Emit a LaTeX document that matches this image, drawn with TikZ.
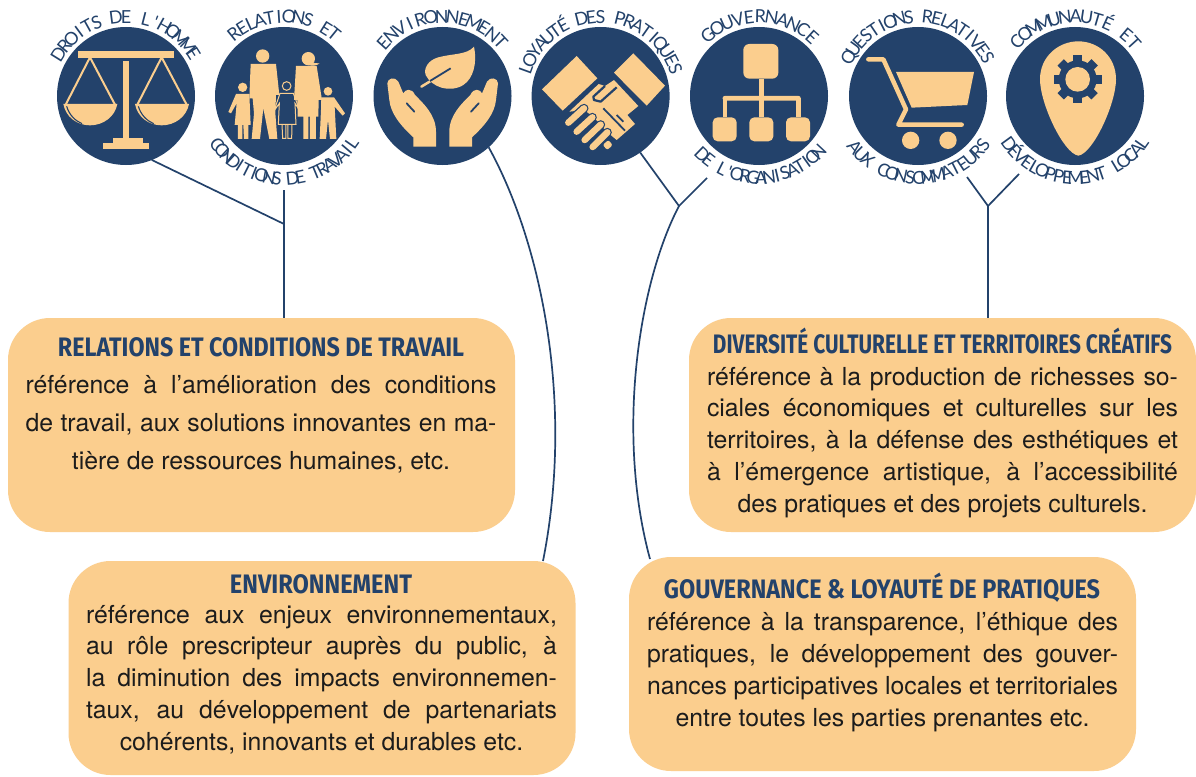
\documentclass[tikz,border=0pt]{standalone}
\usepackage{fontspec}
\usepackage{graphicx}
\setmainfont{TeX Gyre Heros}
\newfontfamily\arcfont{Lato}
\newfontfamily\headfont{Fira Sans}
\definecolor{navy}{HTML}{23426B}
\definecolor{cream}{HTML}{FBCE8E}
\definecolor{ink}{HTML}{1C1C1C}
\tikzset{
  badge/.style={circle,fill=navy,minimum size=138pt,inner sep=0pt,outer sep=0pt},
  panel/.style={draw=none,fill=cream,rounded corners=42pt,minimum width=507pt,minimum height=214pt,inner sep=0pt,outer sep=0pt},
  heading/.style={anchor=base,inner sep=0pt,text=navy},
  bodytext/.style={anchor=base,inner sep=0pt,text=ink},
  arcchar/.style={anchor=base,inner sep=0pt,text=navy,font=\arcfont\fontsize{18}{18}\selectfont},
  link/.style={draw=navy,line width=1.7pt},
  ic/.style={fill=cream,draw=none},
  icl/.style={draw=cream},
  gap/.style={draw=navy},
}
\newlength\arcW
\newlength\arcP
\newcount\arcN
\newcount\arcI
\makeatletter
% #1 badge node, #2 start angle, #3 end angle, #4 radius, #5 text (~ = space)
\newcommand\arclabel[5]{%
  \arcW=0pt \arcN=0 \arcI=0 \arcP=0pt
  \@tfor\chr:=#5\do{%
    \setbox0\hbox{\arcfont\fontsize{18}{18}\selectfont\chr}%
    \advance\arcW by \wd0 \advance\arcN by 1 }%
  \pgfmathsetmacro\arcDir{(#3>#2)?1:-1}%
  \pgfmathsetmacro\arcGap{(#4*(abs(#3-#2)/180)*pi-\strip@pt\arcW)/(\the\arcN-1)}%
  \@tfor\chr:=#5\do{%
    \setbox0\hbox{\arcfont\fontsize{18}{18}\selectfont\chr}%
    \pgfmathsetmacro\arcAng{#2+\arcDir*((\strip@pt\arcP+0.5*\strip@pt\wd0)/#4)*(180/pi)}%
    \pgfmathsetmacro\arcRot{\arcAng+\arcDir*90}%
    \advance\arcI by 1
    \node[arcchar,rotate=\arcRot] (#1a#2n\the\arcI) at ([shift={(\arcAng:#4pt)}]#1.center) {\chr};
    \advance\arcP by \wd0
    \advance\arcP by \arcGap pt
  }%
}
\makeatother
\newcommand\hd[2]{\resizebox{#1pt}{18.5pt}{\headfont\bfseries\vphantom{H}\smash{#2}}}
\newcommand\jl[1]{\hbox to 471pt{#1}}
\newcommand\cl[1]{\hbox to 471pt{\hfil #1\hfil}}
\newcommand\bodyblock[2]{\vtop{\fontsize{24.8}{#1}\selectfont\baselineskip=#1pt\lineskip=0pt\lineskiplimit=-100pt #2}}
\newcommand\handpath{(82,250) .. controls (82,235) and (105,228) .. (115,245) .. controls (121,258) and (124,268) .. (130,280) .. controls (135,268) and (155,262) .. (165,285) .. controls (190,310) and (228,345) .. (228,395) -- (228,440) -- (160,440) -- (160,412) .. controls (120,375) and (92,340) .. (88,300) -- cycle}
\begin{document}
\begin{tikzpicture}[x=1pt,y=-1pt]
\useasboundingbox (0,0) rectangle (1196,776);
\fill[white] (0,0) rectangle (1196,776);

% panels
\node[panel] (b1) at (261.5,425) {};
\node[panel] (b2) at (322,668) {};
\node[panel] (b3) at (942.5,425) {};
\node[panel] (b4) at (882.5,664) {};

% badges
\node[badge] (c1) at (126,96) {};
\node[badge] (c2) at (284,96) {};
\node[badge] (c3) at (442.5,96) {};
\node[badge] (c4) at (600.6,96) {};
\node[badge] (c5) at (759,96) {};
\node[badge] (c6) at (918,96) {};
\node[badge] (c7) at (1075,96) {};

% connectors
\coordinate (j1) at (284,224);
\coordinate (t1) at (284,190);
\draw[link] (c1.-68) -- (j1);
\draw[link] (t1) -- (t1 |- b1.north);
\coordinate (e2) at (543,561);
\draw[link] (c3.-48) .. controls (540,240) and (575,400) .. (e2);
\coordinate (j3) at (679,206);
\coordinate (f3) at (707,178);
\coordinate (e4) at (650,559);
\draw[link] (c4.-55) -- (j3) -- (f3);
\draw[link] (j3) .. controls (640,280) and (615,430) .. (e4);
\coordinate (f6) at (967,177);
\coordinate (f7) at (1019,174);
\coordinate (j6) at (988,206);
\draw[link] (f6) -- (j6) -- (f7);
\draw[link] (j6) -- (j6 |- b3.north);

% arc labels
\arclabel{c1}{148}{32}{73}{DROITS~DE~L'HOMME}
\arclabel{c2}{129}{51}{73}{RELATIONS~ET}
\arclabel{c2}{216}{325}{89}{CONDITIONS~DE~TRAVAIL}
\arclabel{c3}{138}{43}{73}{ENVIRONNEMENT}
\arclabel{c4}{160}{20}{73}{LOYAUTÉ~DES~PRATIQUES}
\arclabel{c5}{130}{48}{73}{GOUVERNANCE}
\arclabel{c5}{226}{317}{88}{DE~L'ORGANISATION}
\arclabel{c6}{151}{29}{73}{QUESTIONS~RELATIVES}
\arclabel{c6}{219}{323}{88}{AUX~CONSOMMATEURS}
\arclabel{c7}{137}{42}{73}{COMMUNAUTÉ~ET}
\arclabel{c7}{216}{325}{88}{DÉVELOPPEMENT~LOCAL}

% scales and family icons
\begin{scope}[x=.33333pt,y=-.33333pt]
  \fill[ic] (234,153) rectangle (522,173);
  \fill[ic] (368,183) rectangle (387,418);
  \fill[ic] (340,415) rectangle (428,431);
  \fill[ic] (308,430) rectangle (448,446);
  \foreach \dx in {0,215}{
    \begin{scope}[xshift=\dx*.33333pt]
      \draw[icl,line width=2pt] (197,314) -- (270,172) -- (345,314);
      \fill[ic] (190,312) -- (352,312) .. controls (345,350) and (310,376) .. (270,376) .. controls (230,376) and (197,350) .. (190,312) -- cycle;
      \draw[gap,line width=1.1pt] (200,319) .. controls (208,345) and (225,362) .. (246,371);
    \end{scope}
  }
  % father
  \fill[ic] (788,168) circle[radius=20];
  \fill[ic] (752,192) -- (828,192) -- (838,285) -- (828,285) -- (826,340) -- (832,417) -- (808,417) -- (790,325) -- (780,417) -- (755,417) -- (762,340) -- (758,295) -- (748,295) -- cycle;
  % mother
  \fill[ic] (925,176) circle[radius=20];
  \fill[ic] (930,180) .. controls (940,190) and (950,192) .. (959,190) .. controls (950,198) and (935,198) .. (925,195) -- cycle;
  \fill[ic] (888,198) -- (950,198) -- (966,300) -- (956,300) -- (955,350) -- (948,350) -- (948,417) -- (930,417) -- (930,350) -- (925,350) -- (925,417) -- (910,417) -- (910,350) -- (893,350) -- (892,300) -- (882,300) -- cycle;
  % left child
  \fill[ic] (728,262) circle[radius=14];
  \fill[ic] (708,282) -- (748,282) -- (752,375) -- (745,375) -- (745,417) -- (732,417) -- (730,375) -- (727,375) -- (727,417) -- (714,417) -- (714,375) -- (704,375) -- (710,310) -- (693,340) -- (685,336) -- cycle;
  % middle child
  \draw[icl,line width=1pt] (860,258) circle[radius=13];
  \draw[icl,line width=1pt] (840,280) -- (880,280) -- (900,333) -- (885,310) -- (888,373) -- (835,373) -- (838,310) -- (822,333) -- cycle;
  \draw[icl,line width=1pt] (846,373) -- (848,415) -- (858,415) -- (858,373) (864,373) -- (864,415) -- (875,415) -- (876,373);
  % right child
  \fill[ic] (984,274) circle[radius=13];
  \fill[ic] (964,292) -- (1002,292) -- (1035,340) -- (1028,347) -- (1004,320) -- (1009,417) -- (990,417) -- (984,360) -- (978,417) -- (959,417) -- (963,330) -- cycle;
\end{scope}

% environment, handshake, org chart
\begin{scope}[shift={(360,0)},x=.33333pt,y=-.33333pt]
  \fill[ic] (342,140) .. controls (320,165) and (280,160) .. (235,172) .. controls (205,180) and (190,205) .. (197,225) .. controls (215,262) and (270,280) .. (310,255) .. controls (340,235) and (352,190) .. (342,140) -- cycle;
  \draw[icl,line width=2.5pt,line cap=round] (184,260) -- (212,243);
  \draw[gap,line width=1.8pt] (210,243) -- (272,205);
  \fill[ic] \handpath;
  \draw[gap,line width=1.8pt,line cap=round] (140,310) -- (163,335);
  \begin{scope}[shift={(496,0)},x=-.33333pt]
    \fill[ic] \handpath;
    \draw[gap,line width=1.8pt,line cap=round] (140,310) -- (163,335);
  \end{scope}
  % handshake
  \fill[ic] (650,168) -- (712,235) -- (608,332) -- (546,268) -- cycle;
  \fill[ic] (820,160) -- (915,257) -- (860,317) -- (762,218) -- cycle;
  \fill[ic] (716,252) -- (628,335) -- (672,330) -- (700,350) -- (740,395) -- (770,420) -- (825,372) -- (802,345) -- (835,318) -- (762,240) -- (735,258) -- cycle;
  \draw[gap,line width=2.2pt,line join=round] (770,262) -- (722,305) -- (702,300) -- (700,290) -- (735,258);
  \draw[gap,line width=1.8pt] (730,325) -- (795,392) (770,345) -- (790,365);
  \foreach \ax/\ay/\bx/\by in {625/368/672/325,650/395/697/352,674/420/722/374,698/441/742/397}{
    \draw[navy,line width=9pt,line cap=round] (\ax,\ay) -- (\bx,\by);
    \draw[cream,line width=6.5pt,line cap=round] (\ax,\ay) -- (\bx,\by);
  }
  \fill[ic,rounded corners=2pt] (728,435) -- (745,420) -- (758,435) -- (742,450) -- cycle;
  % org chart
  \fill[ic,rounded corners=6pt] (1150,132) rectangle (1255,236);
  \fill[ic] (1196,236) rectangle (1212,352);
  \fill[ic,rounded corners=2pt] (1088,288) rectangle (1322,302);
  \fill[ic] (1088,295) rectangle (1102,352);
  \fill[ic] (1308,295) rectangle (1322,352);
  \fill[ic,rounded corners=5pt] (1058,352) rectangle (1130,424);
  \fill[ic,rounded corners=5pt] (1168,352) rectangle (1240,424);
  \fill[ic,rounded corners=5pt] (1278,352) rectangle (1350,424);
\end{scope}

% cart and pin
\begin{scope}[shift={(830,0)},x=.33333pt,y=-.33333pt]
  \draw[icl,line width=4.5pt,line join=round,line cap=round] (115,178) -- (160,178) -- (228,328) -- (205,374) -- (395,374);
  \fill[ic] (198,216) -- (432,216) -- (412,315) -- (245,323) -- cycle;
  \fill[ic] (242,421) circle[radius=26];
  \fill[ic] (354,421) circle[radius=26];
  \fill[ic] (745,467) .. controls (700,460) and (630,310) .. (630,238) .. controls (630,170) and (685,124) .. (745,124) .. controls (805,124) and (858,170) .. (858,238) .. controls (858,310) and (790,460) .. (745,467) -- cycle;
  \foreach \a in {0,45,...,315}{
    \draw[navy,line width=9pt] (743,238) -- ++(\a:72);
  }
  \fill[navy] (743,238) circle[radius=57];
  \fill[ic] (743,238) circle[radius=37];
\end{scope}

% headings
\node[heading] (h1) at (261,356.5) {\hd{406}{RELATIONS ET CONDITIONS DE TRAVAIL}};
\node[heading] (h2) at (321,593) {\hd{182}{ENVIRONNEMENT}};
\node[heading] (h3) at (942.5,353) {\hd{459}{DIVERSITÉ CULTURELLE ET TERRITOIRES CRÉATIFS}};
\node[heading] (h4) at (882,598) {\hd{436}{GOUVERNANCE \& LOYAUTÉ DE PRATIQUES}};

% bodies
\node[bodytext] (t1b) at (261,393) {\bodyblock{38}{%
  \jl{référence à l’amélioration des conditions}
  \jl{de travail, aux solutions innovantes en ma-}
  \cl{tière de ressources humaines, etc.}}};
\node[bodytext] (t2b) at (321.5,623) {\bodyblock{31.8}{%
  \jl{référence aux enjeux environnementaux,}
  \jl{au rôle prescripteur auprès du public, à}
  \jl{la diminution des impacts environnemen-}
  \jl{taux, au développement de partenariats}
  \cl{cohérents, innovants et durables etc.}}};
\node[bodytext] (t3b) at (942.5,385) {\bodyblock{31.8}{%
  \jl{référence à la production de richesses so-}
  \jl{ciales économiques et culturelles sur les}
  \jl{territoires, à la défense des esthétiques et}
  \jl{à l’émergence artistique, à l’accessibilité}
  \cl{des pratiques et des projets culturels.}}};
\node[bodytext] (t4b) at (882.5,630) {\bodyblock{32}{%
  \jl{référence à la transparence, l’éthique des}
  \jl{pratiques, le développement des gouver-}
  \jl{nances participatives locales et territoriales}
  \cl{entre toutes les parties prenantes etc.}}};
\end{tikzpicture}
\end{document}
